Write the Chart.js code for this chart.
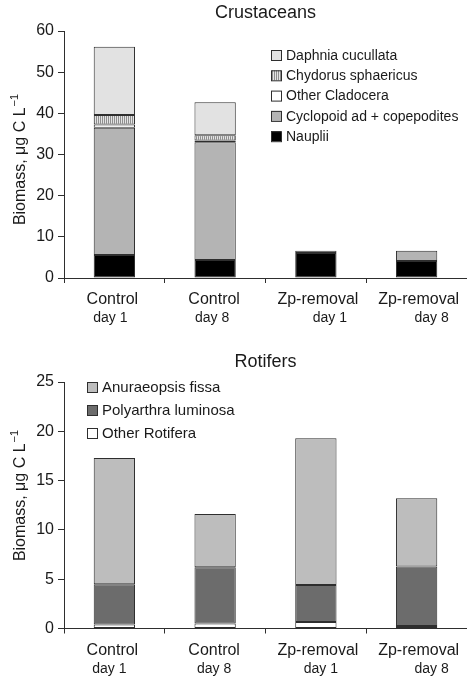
<!DOCTYPE html>
<html>
<head>
<meta charset="utf-8">
<script src="https://cdn.jsdelivr.net/npm/chart.js@4.4.1/dist/chart.umd.min.js"></script>
<style>
  html, body { margin: 0; padding: 0; background: #fff; }
  #wrap { position: relative; width: 467px; height: 683px; }
  canvas { position: absolute; left: 0; }
  #crus { top: 0; }
  #rot { top: 342px; }
</style>
</head>
<body>
<div id="wrap">
  <canvas id="crus" width="467" height="342"></canvas>
  <canvas id="rot" width="467" height="341"></canvas>
</div>
<script>
// Sampling occasions
const treatments = ['Control', 'Control', 'Zp-removal', 'Zp-removal'];
const days = ['day 1', 'day 8', 'day 1', 'day 8'];

// Crustacean biomass, µg C L-1 (stacked bottom to top)
const nauplii    = [5.6, 4.4, 6.1, 4.1];
const cyclopoids = [30.9, 28.6, 0.5, 2.5];
const otherClad  = [0.8, 0.4, 0, 0];
const chydorus   = [2.3, 1.3, 0, 0];
const daphnia    = [16.6, 8.0, 0, 0];
const crusTicks  = [0, 10, 20, 30, 40, 50, 60];

// Rotifer biomass, µg C L-1 (stacked bottom to top)
const otherRot    = [0.4, 0.5, 0.65, 0.25];
const polyarthra  = [4.1, 5.7, 3.75, 6.05];
const anuraeopsis = [12.8, 5.4, 14.9, 6.9];
const rotTicks    = [0, 5, 10, 15, 20, 25];

const FONT = '"Liberation Sans", Arial, Helvetica, sans-serif';
const INK = '#1a1a1a';
const EDGE = '#2e2e2e';

// vertical hatching used for Chydorus
function stripePattern(ctx) {
  const c = document.createElement('canvas');
  c.width = 2; c.height = 2;
  const g = c.getContext('2d');
  g.fillStyle = '#e4e4e4'; g.fillRect(0, 0, 2, 2);
  g.fillStyle = '#8f8f8f'; g.fillRect(0, 0, 1, 2);
  return ctx.createPattern(c, 'repeat');
}

// titles, two-line category labels, y title with superscript and the legend
const decor = {
  id: 'decor',
  afterDraw(chart, args, o) {
    const { ctx, chartArea: a, scales: { x } } = chart;
    ctx.save();
    ctx.fillStyle = INK;
    ctx.textBaseline = 'alphabetic';

    ctx.font = `18px ${FONT}`;
    ctx.textAlign = 'center';
    ctx.fillText(o.title, (a.left + a.right) / 2, o.titleBaseline);

    treatments.forEach((name, i) => {
      const cx = x.getPixelForValue(i);
      ctx.font = `16px ${FONT}`;
      ctx.fillText(name, cx + o.nameShift[i], a.bottom + 26);
      ctx.font = `14px ${FONT}`;
      ctx.fillText(days[i], cx + o.dayShift[i], a.bottom + 44);
    });

    // rotated axis title: "Biomass, µg C L" + superscript "−1"
    const main = 'Biomass, \u03bcg C L', sup = '\u22121';
    ctx.font = `16px ${FONT}`;
    const w1 = ctx.measureText(main).width;
    ctx.font = `11px ${FONT}`;
    const w2 = ctx.measureText(sup).width;
    ctx.save();
    ctx.translate(25, o.yTitleCenter);
    ctx.rotate(-Math.PI / 2);
    ctx.textAlign = 'left';
    ctx.font = `16px ${FONT}`;
    ctx.fillText(main, -(w1 + w2) / 2, 0);
    ctx.font = `11px ${FONT}`;
    ctx.fillText(sup, -(w1 + w2) / 2 + w1 + 1, -7);
    ctx.restore();

    // legend, top entry = top of stack
    const sets = chart.data.datasets.slice().reverse();
    ctx.font = `${o.legendFont}px ${FONT}`;
    ctx.textAlign = 'left';
    ctx.textBaseline = 'middle';
    sets.forEach((ds, i) => {
      const cy = o.legendY + i * o.legendStep;
      ctx.fillStyle = ds.backgroundColor;
      ctx.fillRect(o.legendX, cy - 5, 10, 10);
      ctx.strokeStyle = EDGE;
      ctx.lineWidth = 1;
      ctx.strokeRect(o.legendX + 0.5, cy - 4.5, 10, 10);
      ctx.fillStyle = INK;
      ctx.fillText(ds.label, o.legendX + 15, cy + 1);
    });
    ctx.restore();
  }
};

function series(label, data, color) {
  return {
    label, data,
    backgroundColor: color,
    borderColor: EDGE,
    borderWidth: 1,
    borderSkipped: false,
    barPercentage: 0.82,
    categoryPercentage: 0.5
  };
}

function options(maxY, ticks, padTop, xHeight, decorOpts) {
  return {
    responsive: false,
    animation: false,
    devicePixelRatio: 1,
    layout: { padding: { top: padTop, right: 0, bottom: 0, left: 0 } },
    plugins: { legend: { display: false }, title: { display: false }, tooltip: { enabled: false }, decor: decorOpts },
    scales: {
      x: {
        stacked: true,
        afterFit(s) { s.height = xHeight; },
        grid: { display: true, drawOnChartArea: false, drawTicks: true, tickLength: 5, color: EDGE, offset: true },
        border: { display: true, color: EDGE, width: 1 },
        ticks: { display: false }
      },
      y: {
        stacked: true,
        min: 0, max: maxY,
        afterFit(s) { s.width = 64; },
        afterBuildTicks(s) { s.ticks = ticks.map(v => ({ value: v })); },
        grid: { display: true, drawOnChartArea: false, drawTicks: true, tickLength: 6, color: EDGE },
        border: { display: true, color: EDGE, width: 1 },
        ticks: { font: { family: FONT, size: 16 }, color: INK, padding: 4 }
      }
    }
  };
}

const crusCtx = document.getElementById('crus').getContext('2d');
new Chart(crusCtx, {
  type: 'bar',
  data: {
    labels: treatments.map((t, i) => t + ' ' + days[i]),
    datasets: [
      series('Nauplii', nauplii, '#000000'),
      series('Cyclopoid ad + copepodites', cyclopoids, '#b4b4b4'),
      series('Other Cladocera', otherClad, '#ffffff'),
      series('Chydorus sphaericus', chydorus, stripePattern(crusCtx)),
      series('Daphnia cucullata', daphnia, '#e2e2e2')
    ]
  },
  options: options(60, crusTicks, 31, 64, {
    title: 'Crustaceans', titleBaseline: 18,
    nameShift: [-2, -1, 2, 2], dayShift: [-4, -3, 14, 15],
    yTitleCenter: 160,
    legendX: 271, legendY: 55, legendStep: 20.3, legendFont: 14
  }),
  plugins: [decor]
});

const rotCtx = document.getElementById('rot').getContext('2d');
new Chart(rotCtx, {
  type: 'bar',
  data: {
    labels: treatments.map((t, i) => t + ' ' + days[i]),
    datasets: [
      series('Other Rotifera', otherRot, '#ffffff'),
      series('Polyarthra luminosa', polyarthra, '#6c6c6c'),
      series('Anuraeopsis fissa', anuraeopsis, '#bdbdbd')
    ]
  },
  options: options(25, rotTicks, 40, 54.5, {
    title: 'Rotifers', titleBaseline: 25,
    nameShift: [-2, -1, 2, 2], dayShift: [-5, -1, 5, 15],
    yTitleCenter: 154,
    legendX: 87, legendY: 45, legendStep: 23, legendFont: 15
  }),
  plugins: [decor]
});
</script>
</body>
</html>
